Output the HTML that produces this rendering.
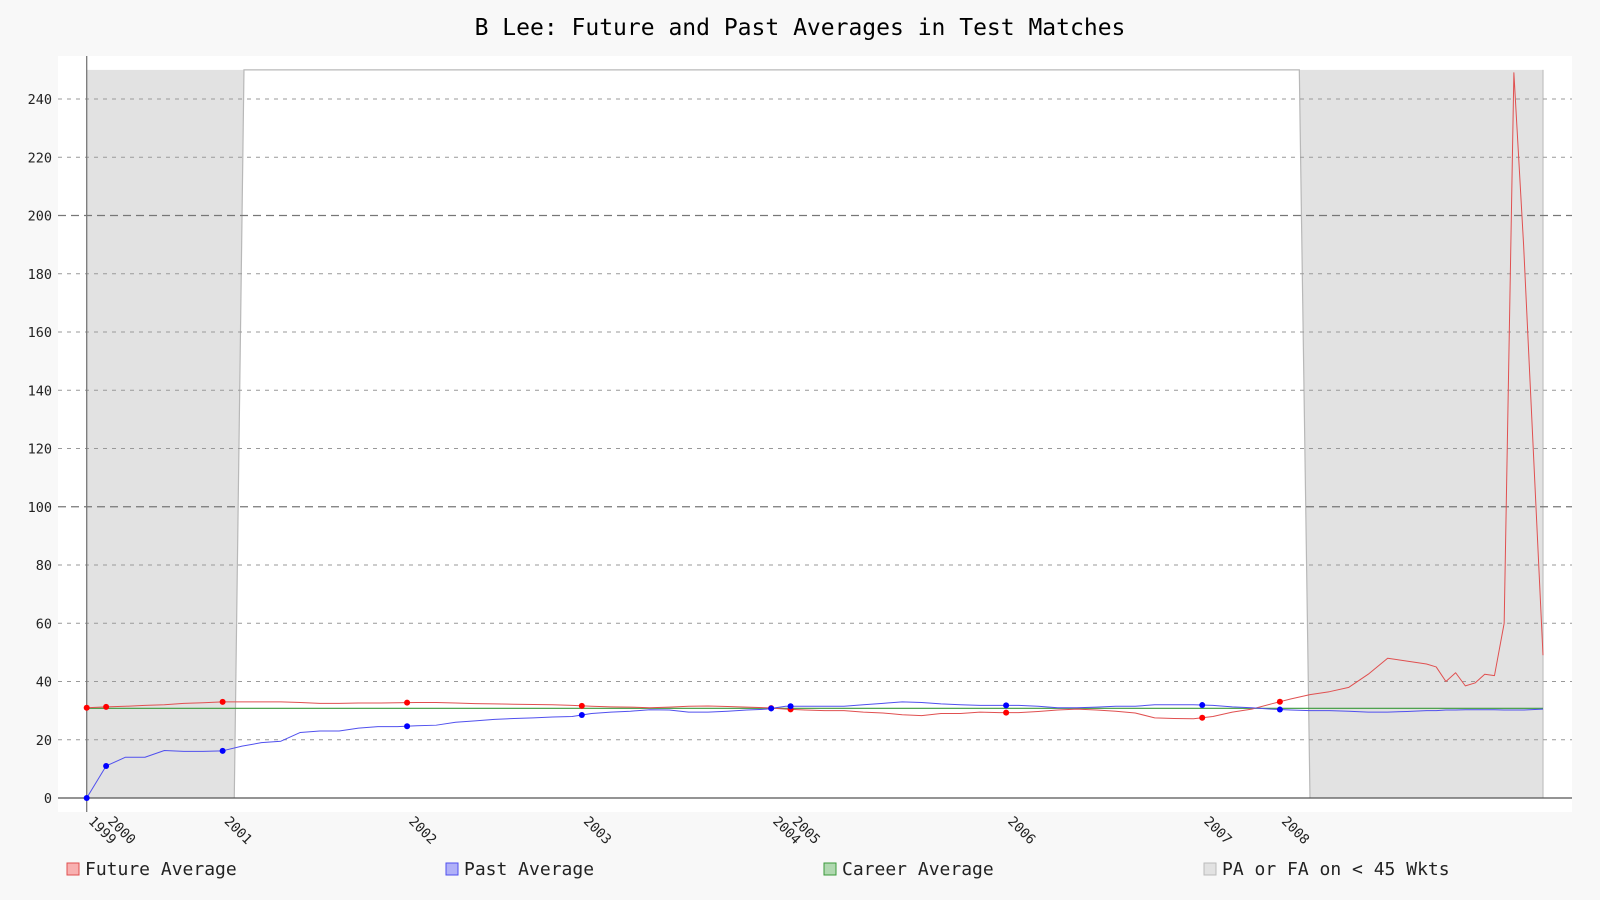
<!DOCTYPE html>
<html><head><meta charset="utf-8"><style>
html,body{margin:0;padding:0;background:#f8f8f8;}
svg{display:block;font-family:"DejaVu Sans Mono","Liberation Mono",monospace;}
</style></head><body>
<svg width="1600" height="900" viewBox="0 0 1600 900">
<rect x="0" y="0" width="1600" height="900" fill="#f8f8f8"/>
<text x="800" y="35" text-anchor="middle" font-size="23" fill="#000">B Lee: Future and Past Averages in Test Matches</text>
<rect x="58" y="56" width="1514" height="756" fill="#fff"/>
<g id="shade"></g>
<g id="grid"></g>
<g id="series"></g>
<g id="xticks"></g>
<g id="legend"></g>
</svg>
<script>
const innings=[0,2,4,6,8,10,12,14,16,18,20,22,24,26,28,30,32,34,36,38,40,42,44,46,48,50,52,54,56,58,60,62,64,66,68,70,72,74,76,78,80,82,84,86,88,90,92,94,96,98,100,102,104,106,108,110,112,114,116,118,120,122,124,126,128,130,132,134,136,138,139,140,141,142,143,144,145,146,147,148,150];
const pastAvg=[0,11,14,14,16.3,16,16,16.2,17.8,19,19.5,22.5,23,23,24,24.5,24.5,24.8,25,26,26.5,27,27.3,27.5,27.8,28,29,29.5,29.8,30.3,30.2,29.5,29.5,29.8,30.2,30.5,31.5,31.5,31.5,31.5,32,32.5,33,32.8,32.3,32,31.8,31.8,31.8,31.5,31,31,31.2,31.5,31.5,32,32,32,31.8,31.3,31,30.5,30.2,30,30,29.8,29.5,29.5,29.7,30,30,30.2,30.2,30.3,30.3,30.3,30.3,30.2,30.2,30.2,30.5];
const futureAvg=[31,31.3,31.5,31.8,32,32.5,32.7,33,33,33,33,32.8,32.5,32.5,32.6,32.6,32.7,32.8,32.8,32.6,32.4,32.3,32.2,32.1,32,31.8,31.5,31.3,31.2,31,31.2,31.5,31.6,31.4,31.2,31,30.5,30.2,30,30,29.5,29.2,28.6,28.3,29,29,29.5,29.3,29.3,29.7,30.2,30.5,30.2,29.8,29.2,27.5,27.3,27.2,28,29.5,30.5,32.3,34,35.5,36.5,38,42.5,48,47,46,45,40,43,38.5,39.5,42.5,42,60,249,190,49];
const careerAvg=30.8;
const yearLabels=["1999","2000","2001","2002","2003","2004","2005","2006","2007","2008"];
const yearInnings=[0,2,14,33,51,70.5,72.5,94.7,114.9,122.9];
const yTicks=[0,20,40,60,80,100,120,140,160,180,200,220,240];
const shadeMax=250;
const shadeLowStart=[15.2,126];
const shadeTopEnd=[16.2,124.9];
const NS="http://www.w3.org/2000/svg";
const X=i=>86.7+i*(1543-86.7)/150;
const Y=v=>798-v*2.9125;
function el(tag,attrs,parent){const e=document.createElementNS(NS,tag);for(const k in attrs)e.setAttribute(k,attrs[k]);parent.appendChild(e);return e;}
const shade=document.getElementById('shade'),grid=document.getElementById('grid'),ser=document.getElementById('series'),xt=document.getElementById('xticks'),lg=document.getElementById('legend');
let p1=el('polygon',{points:`${X(0)},${Y(shadeMax)} ${X(shadeTopEnd[0])},${Y(shadeMax)} ${X(shadeLowStart[0])},${Y(0)} ${X(0)},${Y(0)}`,fill:'#e2e2e2'},shade);


let p2=el('polygon',{points:`${X(shadeTopEnd[1])},${Y(shadeMax)} ${X(150)},${Y(shadeMax)} ${X(150)},${Y(0)} ${X(shadeLowStart[1])},${Y(0)}`,fill:'#e2e2e2'},shade);


let ol=el('polyline',{points:`${X(shadeLowStart[0])},${Y(0)} ${X(shadeTopEnd[0])},${Y(shadeMax)} ${X(shadeTopEnd[1])},${Y(shadeMax)} ${X(shadeLowStart[1])},${Y(0)}`,fill:'none',stroke:'#b8b8b8','stroke-width':1.2},shade);


let ol2=el('line',{x1:X(150),y1:Y(shadeMax),x2:X(150),y2:Y(0),stroke:'#c0c0c0','stroke-width':1.2},shade);


yTicks.forEach(v=>{
  if(v>0){const major=v%100===0;
    let g=el('line',{x1:58,x2:1572,y1:Y(v),y2:Y(v),stroke:major?'#777':'#999','stroke-width':major?1.3:1,'stroke-dasharray':major?'8,5':'4,5'},grid);
    
    }
  let t=el('text',{x:52,y:Y(v)+5,'text-anchor':'end','font-size':13.5,fill:'#222'},grid);t.textContent=v;
  
  
});
let ax=el('line',{x1:58,x2:1572,y1:Y(0),y2:Y(0),stroke:'#555','stroke-width':1.3},grid);


let ay=el('line',{x1:X(0),x2:X(0),y1:56,y2:812,stroke:'#777','stroke-width':1.3},grid);


function line(vals,color,name){
  const pts=innings.map((n,i)=>X(n)+','+Y(vals[i])).join(' ');
  const pl=el('polyline',{points:pts,fill:'none',stroke:color,'stroke-width':1,'stroke-linejoin':'round'},ser);
  
  
}
function interp(vals,n){for(let i=0;i<innings.length-1;i++){if(n>=innings[i]&&n<=innings[i+1]){const t=(n-innings[i])/(innings[i+1]-innings[i]);return vals[i]+t*(vals[i+1]-vals[i]);}}return vals[vals.length-1];}
let cl=el('line',{x1:X(0),x2:X(150),y1:Y(careerAvg),y2:Y(careerAvg),stroke:'#3a9a3a','stroke-width':1.2},ser);


line(futureAvg,'#e05050','future-average-line');
line(pastAvg,'#5050ee','past-average-line');
yearInnings.forEach((n,k)=>{
  let a=el('circle',{cx:X(n),cy:Y(interp(futureAvg,n)),r:3,fill:'#f00'},ser);
  
  
  let b=el('circle',{cx:X(n),cy:Y(interp(pastAvg,n)),r:3,fill:'#00f'},ser);
  
  
  let t=el('text',{x:0,y:0,'font-size':13.5,fill:'#222',transform:`translate(${X(n)+1},${822}) rotate(45)`},xt);
  t.textContent=yearLabels[k];
  
  
});
const legNames=["Future Average","Past Average","Career Average","PA or FA on < 45 Wkts"];
const legFill=["#f8b0b0","#b0b0f8","#b0d8b0","#e2e2e2"];
const legStroke=["#e05050","#5050ee","#3a9a3a","#bbb"];
const legX=[67,446,824,1204];
legNames.forEach((nm,k)=>{
  const g=el('g',{},lg);
  
  
  el('rect',{x:legX[k],y:863,width:12,height:12,fill:legFill[k],stroke:legStroke[k],'stroke-width':1},g);
  const t=el('text',{x:legX[k]+18,y:875,'font-size':18,fill:'#222'},g);t.textContent=nm;
});
</script>
</body></html>
